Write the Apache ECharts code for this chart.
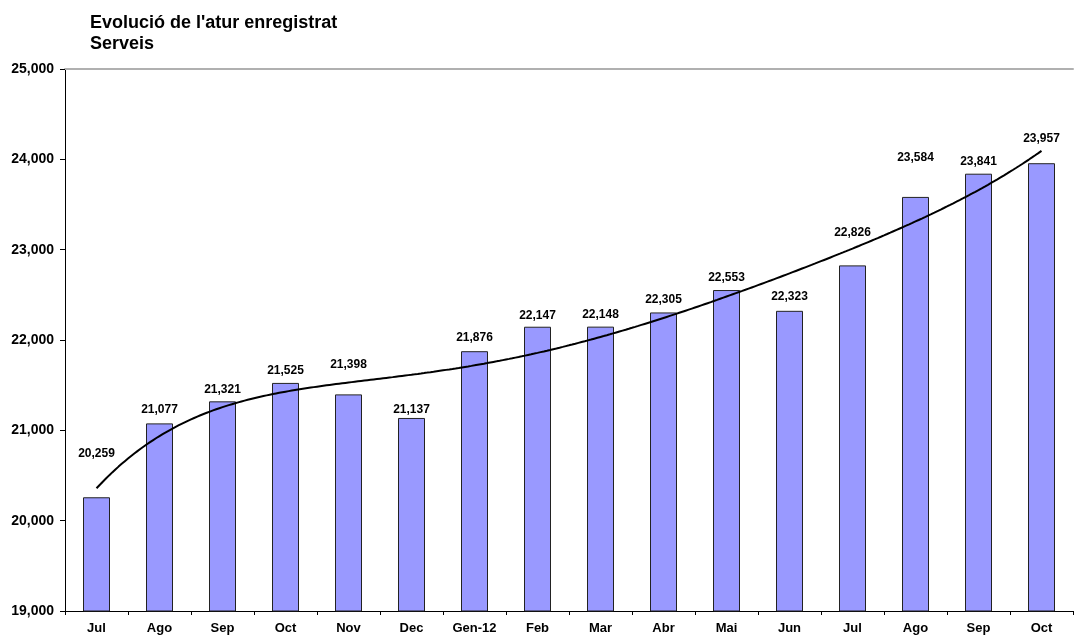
<!DOCTYPE html>
<html>
<head>
<meta charset="utf-8">
<script src="https://cdn.jsdelivr.net/npm/echarts@6/dist/echarts.min.js"></script>
<style>
  html, body { margin: 0; padding: 0; background: #fff; }
  #chart { width: 1075px; height: 635px; }
</style>
</head>
<body>
<div id="chart"></div>
<script>
// Months from July 2011 to October 2012
const months = ['Jul', 'Ago', 'Sep', 'Oct', 'Nov', 'Dec', 'Gen-12', 'Feb', 'Mar', 'Abr', 'Mai', 'Jun', 'Jul', 'Ago', 'Sep', 'Oct'];
// Registered unemployment, services sector
const unemployed = [20259, 21077, 21321, 21525, 21398, 21137, 21876, 22147, 22148, 22305, 22553, 22323, 22826, 23584, 23841, 23957];
// Y axis range and step
const yTicks = [19000, 20000, 21000, 22000, 23000, 24000, 25000];
// Extra gap between each bar top and its value label, to keep labels clear of the trend curve
const labelGap = [38, 8, 6, 6, 24, 2, 8, 5, 6, 7, 6, 8, 27, 33, 6, 19];
// Degree of the polynomial trend curve
const trendOrder = 5;

// Least-squares polynomial fit (x = 1..n), solved by Gauss-Jordan elimination
function polyFit(ys, order) {
  const n = order + 1;
  const A = Array.from({ length: n }, () => new Array(n + 1).fill(0));
  ys.forEach((y, i) => {
    const x = i + 1;
    for (let r = 0; r < n; r++) {
      for (let c = 0; c < n; c++) A[r][c] += Math.pow(x, r + c);
      A[r][n] += y * Math.pow(x, r);
    }
  });
  for (let p = 0; p < n; p++) {
    let best = p;
    for (let r = p + 1; r < n; r++) if (Math.abs(A[r][p]) > Math.abs(A[best][p])) best = r;
    [A[p], A[best]] = [A[best], A[p]];
    for (let r = 0; r < n; r++) {
      if (r === p) continue;
      const f = A[r][p] / A[p][p];
      for (let c = p; c <= n; c++) A[r][c] -= f * A[p][c];
    }
  }
  return A.map((row, i) => row[n] / row[i]);
}
const coef = polyFit(unemployed, trendOrder);
const trend = [];
for (let k = 0; k <= (unemployed.length - 1) * 20; k++) {
  const t = k / 20;
  const x = t + 1;
  trend.push([t, coef.reduce((s, c, i) => s + c * Math.pow(x, i), 0)]);
}

const font = '"Liberation Sans", Arial, sans-serif';
const chart = echarts.init(document.getElementById('chart'), null, { renderer: 'canvas' });
chart.setOption({
  animation: false,
  backgroundColor: '#ffffff',
  title: {
    text: "Evolució de l'atur enregistrat\nServeis",
    left: 85,
    top: 8,
    textStyle: { fontFamily: font, fontSize: 18, fontWeight: 'bold', color: '#000', lineHeight: 21 }
  },
  grid: { left: 65, right: 2, top: 69, bottom: 24, containLabel: false },
  xAxis: [
    {
      type: 'category',
      data: months,
      boundaryGap: true,
      axisLine: { lineStyle: { color: '#000', width: 1 } },
      axisTick: { show: true, length: 4, lineStyle: { color: '#000' } },
      axisLabel: { fontFamily: font, fontSize: 13, fontWeight: 'bold', color: '#000', margin: 11, interval: 0 },
      splitLine: { show: false }
    },
    {
      // hidden axis carrying the trend curve; its top line is the plot's upper edge
      type: 'value',
      position: 'top',
      min: -0.5,
      max: unemployed.length - 0.5,
      axisLine: { show: true, onZero: false, lineStyle: { color: '#b0b0b0', width: 2 } },
      axisTick: { show: false },
      axisLabel: { show: false },
      splitLine: { show: false }
    }
  ],
  yAxis: {
    type: 'value',
    min: yTicks[0],
    max: yTicks[yTicks.length - 1],
    interval: yTicks[1] - yTicks[0],
    axisLine: { show: true, onZero: false, lineStyle: { color: '#000', width: 1 } },
    axisTick: { show: true, length: 5, lineStyle: { color: '#000' } },
    axisLabel: {
      fontFamily: font, fontSize: 14, fontWeight: 'bold', color: '#000', margin: 11,
      formatter: v => v.toLocaleString('en-US')
    },
    splitLine: { show: false }
  },
  series: [
    {
      type: 'bar',
      xAxisIndex: 0,
      barWidth: 27,
      data: unemployed.map((v, i) => ({
        value: v,
        label: { distance: labelGap[i] }
      })),
      itemStyle: { color: '#9999ff', borderColor: '#222', borderWidth: 1 },
      label: {
        show: true,
        position: 'top',
        fontFamily: font,
        fontSize: 12,
        fontWeight: 'bold',
        color: '#000',
        formatter: p => p.value.toLocaleString('en-US')
      },
      z: 2
    },
    {
      type: 'line',
      xAxisIndex: 1,
      data: trend,
      showSymbol: false,
      smooth: false,
      lineStyle: { color: '#000', width: 2 },
      z: 3
    }
  ]
});
</script>
</body>
</html>
